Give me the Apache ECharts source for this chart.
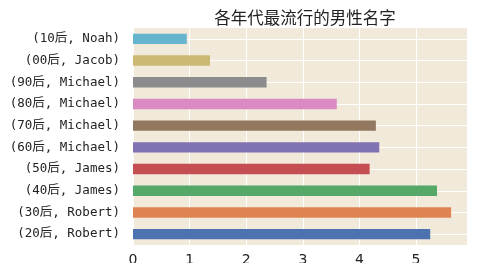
<!DOCTYPE html>
<html>
<head>
<meta charset="utf-8">
<script src="https://cdn.jsdelivr.net/npm/echarts@6/dist/echarts.min.js"></script>
<style>html,body{margin:0;padding:0;background:#fff;}#c{width:479px;height:263px;}</style>
</head>
<body>
<div id="c"></div>
<script>
const categories = ['(20后, Robert)', '(30后, Robert)', '(40后, James)', '(50后, James)', '(60后, Michael)', '(70后, Michael)', '(80后, Michael)', '(90后, Michael)', '(00后, Jacob)', '(10后, Noah)'];
const values = [5.25, 5.62, 5.37, 4.18, 4.35, 4.29, 3.60, 2.36, 1.36, 0.95];
const colors = ['#4C72B0', '#DD8452', '#55A868', '#C44E52', '#8172B3', '#937860', '#DA8BC3', '#8C8C8C', '#CCB974', '#64B5CD'];
const xTicks = [0, 1, 2, 3, 4, 5];
const title = '各年代最流行的男性名字';

const chart = echarts.init(document.getElementById('c'), null, {renderer: 'canvas'});
chart.setOption({
  animation: false,
  backgroundColor: '#ffffff',
  title: {
    text: title, left: 300, top: 4, textAlign: 'center',
    textStyle: {fontFamily: 'Noto Sans CJK SC', fontSize: 16.5, fontWeight: 'normal', color: '#222'}
  },
  grid: {left: 133, right: 12, top: 28, bottom: 18, show: true, backgroundColor: '#F1E9DA', borderWidth: 0,
         outerBoundsMode: 'none', containLabel: false},
  xAxis: {
    type: 'value', min: 0, max: 5.9, interval: 1,
    axisLine: {show: false}, axisTick: {show: false},
    splitLine: {show: true, lineStyle: {color: '#ffffff', width: 1}},
    axisLabel: {
      margin: 8, color: '#222', fontSize: 14, fontFamily: 'DejaVu Sans',
      showMaxLabel: false,
      formatter: v => (xTicks.indexOf(v) >= 0 ? String(v) : '')
    }
  },
  yAxis: {
    type: 'category', data: categories,
    axisLine: {show: false}, axisTick: {show: false},
    splitLine: {show: true, alignWithLabel: true, lineStyle: {color: '#ffffff', width: 1}},
    axisLabel: {margin: 13, color: '#222', fontSize: 12.5, fontFamily: 'DejaVu Sans Mono, Noto Sans CJK SC'}
  },
  series: [{
    type: 'bar', barWidth: '48%',
    data: values.map((v, i) => ({value: v, itemStyle: {color: colors[i]}}))
  }]
});
</script>
</body>
</html>
